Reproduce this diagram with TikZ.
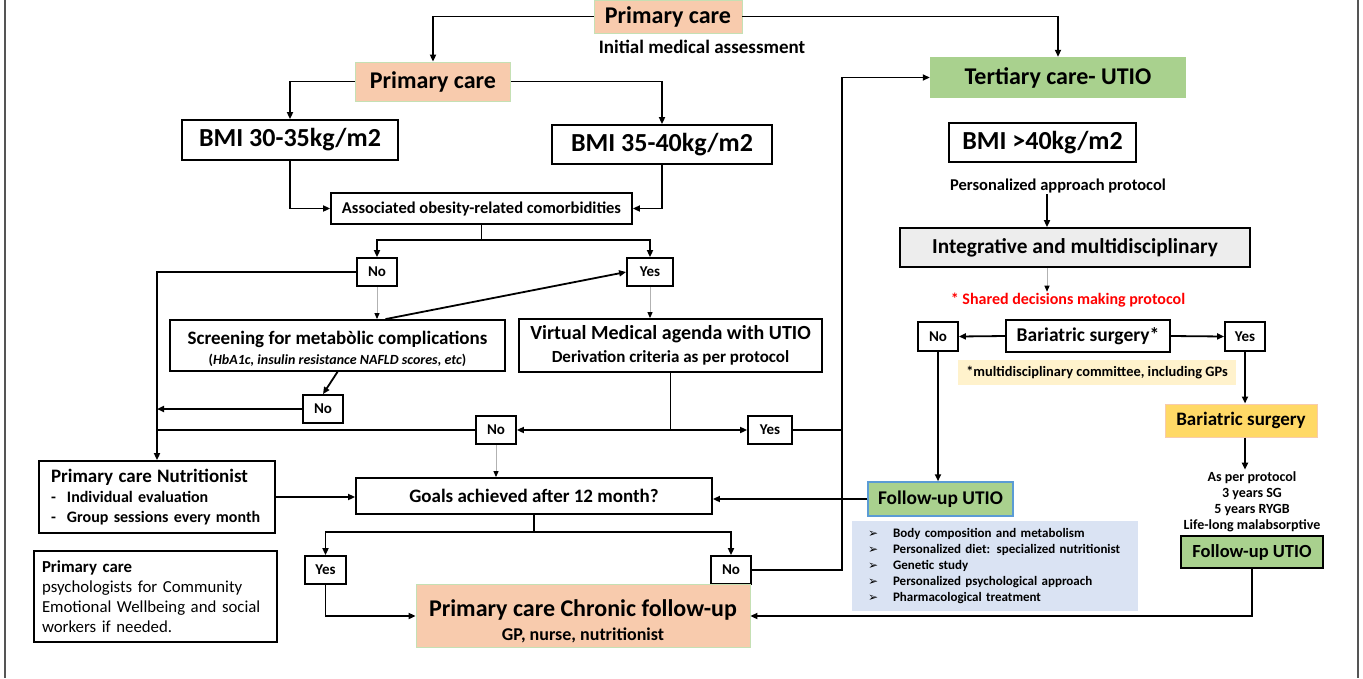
\documentclass[tikz,border=0pt]{standalone}
\usepackage{fontspec}
\setmainfont{Carlito}
\newfontfamily\dejavu{DejaVu Sans}
\usetikzlibrary{arrows.meta}
\newcommand\fsz[2]{\fontsize{#1}{#2}\selectfont}
\definecolor{peach}{HTML}{F8CBAD}
\definecolor{pgreen}{HTML}{A9D18E}
\definecolor{lgreen}{HTML}{C5E0B4}
\definecolor{igray}{HTML}{EDEDED}
\definecolor{byellow}{HTML}{FFD966}
\definecolor{bborder}{HTML}{F8CBAD}
\definecolor{nyellow}{HTML}{FFF2CC}
\definecolor{lblue}{HTML}{DAE3F3}
\definecolor{bblue}{HTML}{5B9BD5}
\definecolor{framec}{HTML}{555555}
\definecolor{sred}{HTML}{FF0000}
\tikzset{
  sz/.style 2 args={minimum width=#1pt, minimum height=#2pt},
  base/.style={inner sep=0pt, align=center, font=\bfseries},
  pbox/.style={base, fill=peach, draw=lgreen, line width=0.8pt},
  gbox/.style={base, fill=pgreen},
  wbox/.style={base, draw=black, line width=1.8pt, fill=white},
  yn/.style={base, draw=black, line width=1.8pt, fill=white, font=\bfseries\fsz{15}{18}},
  ln/.style={line width=1.8pt},
  arr/.style={line width=1.8pt, -{Triangle[length=7pt,width=6pt]}},
  thinarr/.style={draw=gray!60, line width=1pt, -{Triangle[length=6pt,width=5pt,color=black]}},
  lbl/.style={inner sep=1pt, align=center, font=\bfseries},
}
\begin{document}
\begin{tikzpicture}[x=1pt,y=-1pt]
\useasboundingbox (0,0) rectangle (1363,678);
\draw[framec, line width=2pt] (4.5,0) -- (4.5,678);
\draw[framec, line width=2pt] (1358,0) -- (1358,678);

% ---------- left / centre column ----------
\node[pbox, sz={148}{33}, font=\bfseries\fsz{24}{28}] (pc1) at (668,16.5) {Primary care};
\node[lbl, font=\bfseries\fsz{19}{22}] (init) at (702,47) {Initial medical assessment};
\node[pbox, sz={155}{39}, font=\bfseries\fsz{24}{28}] (pc2) at (433,81.5) {Primary care};
\node[wbox, sz={216}{40}, font=\bfseries\fsz{26}{30}] (bmi1) at (290,140) {BMI 30-35kg/m2};
\node[wbox, sz={220}{39}, font=\bfseries\fsz{26}{30}] (bmi2) at (662,144.5) {BMI 35-40kg/m2};
\node[wbox, sz={301}{31}, font=\bfseries\fsz{16.5}{19}] (assoc) at (481.5,208.5) {Associated obesity-related comorbidities};
\coordinate (j1) at (481.5,240);
\node[yn, sz={40}{28}] (no1) at (377,272) {No};
\node[yn, sz={46}{28}] (yes1) at (650,272) {Yes};
\node[wbox, sz={335}{51}, font=\bfseries\fsz{19}{20}] (screen) at (337.5,345.5) {\rule{0pt}{20pt}Screening for metab\`olic complications\\{\fsz{14}{16}(\textit{HbA1c, insulin resistance NAFLD scores, etc})}};
\node[wbox, sz={303}{53}, font=\bfseries\fsz{20}{23}] (virt) at (670.5,345.5) {Virtual Medical agenda with UTIO\\{\fsz{17}{19}Derivation criteria as per protocol}};
\node[yn, sz={40}{28}] (no2) at (323,409) {No};
\node[yn, sz={40}{28}] (no3) at (496,430) {No};
\node[yn, sz={44}{28}] (yes3) at (770,430) {Yes};
\node[wbox, sz={236}{72}, align=left, text width=212pt, inner xsep=12pt, font=\bfseries\fsz{16}{20}] (nutr) at (157,497)
  {{\fsz{19}{20}Primary care Nutritionist}\\
   \makebox[16pt][l]{-}Individual evaluation\\
   \makebox[16pt][l]{-}Group sessions every month};
\node[wbox, sz={356}{36}, font=\bfseries\fsz{19}{21}] (goals) at (534,496) {Goals achieved after 12 month?};
\coordinate (j3) at (534,532);
\node[yn, sz={41}{28}] (yes4) at (325.5,570) {Yes};
\node[yn, sz={40}{28}] (no4) at (731,570) {No};
\node[pbox, sz={334}{63}, font=\bfseries\fsz{24}{24}] (chronic) at (583,616) {\rule{0pt}{27pt}Primary care Chronic follow-up\\{\fsz{18}{20}GP, nurse, nutritionist}};
\node[wbox, sz={243}{91}, align=left, text width=227pt, inner xsep=8pt, font=\mdseries\fsz{16.8}{20}] (psych) at (155.5,596.5)
  {\textbf{Primary care}\\ psychologists for Community\\ Emotional Wellbeing and social\\ workers if needed.};

% ---------- right column ----------
\node[gbox, sz={256}{41}, font=\bfseries\fsz{24}{28}] (tert) at (1058,77.5) {Tertiary care- UTIO};
\node[wbox, sz={187}{39}, font=\bfseries\fsz{26}{30}] (bmi3) at (1042.5,142.5) {BMI >40kg/m2};
\node[lbl, font=\bfseries\fsz{16.5}{19}] (pap) at (1058,186) {Personalized approach protocol};
\node[wbox, sz={350}{39}, fill=igray, font=\bfseries\fsz{21.3}{25}] (integ) at (1075,247.5) {Integrative and multidisciplinary};
\node[lbl, text=sred, font=\bfseries\fsz{16}{19}] (shared) at (1068,300) {* Shared decisions making protocol};
\node[wbox, sz={164}{32}, font=\bfseries\fsz{19.5}{22}] (bari) at (1088,336) {Bariatric surgery*};
\node[yn, sz={40}{29}] (no5) at (938,336.5) {No};
\node[yn, sz={40}{29}] (yes5) at (1245,336.5) {Yes};
\node[base, fill=nyellow, sz={278}{25}, font=\bfseries\fsz{14.4}{16}] (note) at (1097,372.5) {*multidisciplinary committee, including GPs};
\node[gbox, draw=bblue, line width=1.5pt, sz={145}{34}, font=\bfseries\fsz{19.4}{22}] (fu1) at (940.5,499) {Follow-up UTIO};
\node[base, fill=lblue, sz={286}{90}, align=left, text width=254pt, inner xsep=16pt, font=\bfseries\fsz{13}{16}] (list) at (995,566)
  {\makebox[25pt][l]{\dejavu\fsz{12}{16}➢}Body composition and metabolism\\
   \makebox[25pt][l]{\dejavu\fsz{12}{16}➢}Personalized diet: specialized nutritionist\\
   \makebox[25pt][l]{\dejavu\fsz{12}{16}➢}Genetic study\\
   \makebox[25pt][l]{\dejavu\fsz{12}{16}➢}Personalized psychological approach\\
   \makebox[25pt][l]{\dejavu\fsz{12}{16}➢}Pharmacological treatment};
\node[base, fill=byellow, draw=bborder, line width=1pt, sz={152}{33}, font=\bfseries\fsz{19}{22}] (bari2) at (1241,420.5) {Bariatric surgery};
\node[lbl, inner sep=2pt, font=\bfseries\fsz{14}{16}] (asper) at (1252,502) {As per protocol\\3 years SG\\5 years RYGB\\Life-long malabsorptive};
\node[gbox, draw=black, line width=2pt, sz={142}{32}, font=\bfseries\fsz{18.5}{21}] (fu2) at (1252,552) {Follow-up UTIO};
\coordinate (vx) at (842,0);

% ---------- connectors ----------
\draw[arr] (pc1.west) -| (pc2.north);
\draw[arr] (pc1.east) -| (tert.north);
\draw[arr] (pc2.west) -| (bmi1.north);
\draw[arr] (pc2.east) -| (bmi2.north);
\draw[arr] (bmi1.south) |- (assoc.west);
\draw[arr] (bmi2.south) |- (assoc.east);
\draw[ln] (assoc.south) -- (j1);
\draw[arr] (j1) -| (no1.north);
\draw[arr] (j1) -| (yes1.north);
\draw[arr] (no1.west) -| (nutr.north);
\draw[thinarr] (no1.south) -- (no1.south |- screen.north);
\draw[arr] ([xshift=48pt]screen.north) -- (yes1.west);
\draw[thinarr] (yes1.south) -- (yes1.south |- virt.north);
\draw[arr] (screen.south) -- (no2.north);
\draw[arr] (no2.west) -- (no2.west -| nutr.north);
\draw[ln] (no3.west) -- (no3.west -| nutr.north);
\draw[ln] (virt.south) -- (virt.south |- no3.east) coordinate (j2);
\draw[arr] (j2) -- (no3.east);
\draw[arr] (j2) -- (yes3.west);
\draw[thinarr] (no3.south) -- (no3.south |- goals.north);
\draw[ln] (yes3.east) -- (yes3.east -| vx);
\draw[arr] (no4.east) -- (no4.east -| vx) -- (vx |- tert.west) -- (tert.west);
\draw[arr] (nutr.east) -- (nutr.east -| goals.west);
\draw[ln] (goals.south) -- (j3);
\draw[arr] (j3) -| (yes4.north);
\draw[arr] (j3) -| (no4.north);
\draw[arr] (yes4.south) |- (chronic.west);
\draw[arr] (fu2.south) |- (chronic.east);
\draw[arr] (fu1.west) -- (fu1.west -| goals.east);
\draw[arr] (no5.south) -- (no5.south |- fu1.north);
\draw[arr] (bari.west) -- (no5.east);
\draw[arr] (bari.east) -- (yes5.west);
\draw[arr] (yes5.south) -- (yes5.south |- bari2.north);
\draw[arr] (yes5.south |- bari2.south) -- (yes5.south |- asper.north);
\draw[arr] ([xshift=-11pt]pap.south) -- ([xshift=-11pt]pap.south |- integ.north);
\draw[thinarr] ([xshift=-11pt]pap.south |- integ.south) -- ([xshift=-11pt]pap.south |- shared.north);
\end{tikzpicture}
\end{document}
